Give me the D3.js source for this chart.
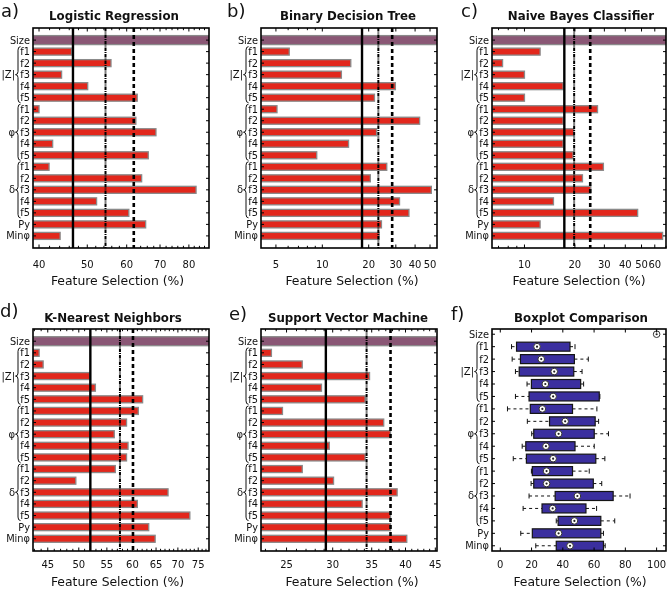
<!DOCTYPE html>
<html><head><meta charset="utf-8">
<script src="https://cdn.jsdelivr.net/npm/d3@7"></script>
<style>body{margin:0;background:#fff}svg{display:block;will-change:transform}text{font-family:"DejaVu Sans",Verdana,sans-serif;fill:#111}</style>
</head><body><svg id="c" width="668" height="589"></svg>
<script>
// ---------- data ----------
const rowNames = ["Size","f1","f2","f3","f4","f5","f1","f2","f3","f4","f5","f1","f2","f3","f4","f5","Py","Minφ"];
const groupNames = ["|Z|","φ","δ"];
const groupStart = [1,6,11];
const sizeValue = 100;

const lrValues  = [46.5,55.8,44.4,50.1,63.0, 40.0,62.6,68.7,42.6,66.3, 41.9,64.3,82.7,52.2,60.6, 65.5,44.1];
const lrLines   = [46.8,54.4,62.0];
const lrTicks   = [40,50,60,70,80];

const bdtValues = [6.1,15.3,13.3,29.8,21.8, 5.08,42.8,22.5,14.8,9.2, 26.2,20.5,51,31.7,36.5, 24.2,23.4];
const bdtLines  = [18.1,23.1,28.4];
const bdtTicks  = [5,10,20,30,40,50];

const nbValues  = [12.4,7.4,10.0,17.0,10.0, 27.3,17.0,19.7,17.0,19.5, 29.6,22.2,24.9,14.9,47.4, 12.4,66.8];
const nbLines   = [17.3,19.8,24.7];
const nbTicks   = [10,20,30,40,50,60];

const knnValues = [43.7,44.3,51.9,52.9,62.1, 61.2,58.8,56.4,59.1,58.8, 56.6,49.5,67.7,61.0,72.9, 63.4,64.8];
const knnLines  = [52.0,57.5,60.1];
const knnTicks  = [45,50,55,60,65,70,75];

const svmValues = [23.55,26.6,34.7,28.7,34.1, 24.6,36.7,37.7,29.6,34.1, 26.6,30.1,38.7,33.7,37.7, 37.7,40.2];
const svmLines  = [29.2,34.3,37.7];
const svmTicks  = [25,30,35,40,45];

// boxplot: [low whisker, Q1, median, Q3, high whisker] per feature row
const boxLow    = [7.2,7.6,9.7,17.1,9.7, 4.6,17.3,20.1,14.0,8.3, 19.9,19.7,18.4,14.6,35.8, 13.1,22.7];
const boxQ1     = [10.4,12.9,12.1,19.9,18.4, 19.2,31.5,21.4,16.3,16.7, 20.5,21.4,35.1,26.7,37.0, 20.5,35.8];
const boxMedian = [23.5,26.2,34.5,28.8,33.8, 26.9,41.5,37.3,29.2,33.8, 29.6,29.6,49.3,33.5,47.4, 37.3,44.6];
const boxQ3     = [44.6,47.4,47.0,51.4,63.3, 46.2,60.7,60.1,47.8,61.1, 46.2,59.5,72.2,54.8,64.3, 64.3,66.0];
const boxHigh   = [47.8,56.3,52.3,53.3,63.7, 61.8,62.9,69.2,60.1,66.9, 56.9,64.9,83.0,61.6,73.2, 66.0,67.1];
const boxSizeMedian = 100;
const boxTicks  = [0,20,40,60,80,100];

const titles = ["Logistic Regression","Binary Decision Tree","Naive Bayes Classifier","K-Nearest Neighbors","Support Vector Machine","Boxplot Comparison"];
const letters = ["a)","b)","c)","d)","e)","f)"];
const xTitle = "Feature Selection (%)";

// ---------- layout ----------
const svg = d3.select("#c");
const RED = "#e2271c", MAUVE = "#8a5775", BOXC = "#3b2f9f";
const panels = [
  {L:33, R:209, T:28, B:248, dom:[38.9,87.8], vals:lrValues,  lines:lrLines,  ticks:lrTicks,  minor:d3.range(40,88,2), tx:114, lx:1,   ly:17, axT:117.5},
  {L:261,R:437, T:28, B:248, dom:[4.0,55.5],  vals:bdtValues, lines:bdtLines, ticks:bdtTicks, minor:[5,6,7,8,9,10,20,30,40,50], tx:348, lx:227, ly:17, axT:352},
  {L:492,R:666, T:28, B:248, dom:[6.4,70.0],  vals:nbValues,  lines:nbLines,  ticks:nbTicks,  minor:[7,8,9,10,20,30,40,50,60,70], tx:581, lx:461, ly:17, axT:579},
  {L:33, R:209, T:329,B:551, dom:[42.8,77.8], vals:knnValues, lines:knnLines, ticks:knnTicks, minor:d3.range(43,78,1), tx:113, lx:0,   ly:317, axT:117.5},
  {L:261,R:437, T:329,B:551, dom:[22.6,45.3], vals:svmValues, lines:svmLines, ticks:svmTicks, minor:d3.range(23,46,1), tx:348, lx:229, ly:320, axT:352},
  {L:492,R:666, T:329,B:551, dom:[-5.3,106],  box:true,       ticks:boxTicks, minor:boxTicks, tx:581, lx:451, ly:320, axT:580}
];

const defs = svg.append("defs");

panels.forEach((p, i) => {
  const g = svg.append("g");
  const x = p.box ? d3.scaleLinear().domain(p.dom).range([p.L, p.R])
                  : d3.scaleLog().domain(p.dom).range([p.L, p.R]);
  const y = d3.scalePoint().domain(d3.range(rowNames.length)).range([p.T, p.B]).padding(p.box ? 0.42 : 1.05);
  const top = p.T < 300;
  defs.append("clipPath").attr("id", "clip" + i).append("rect")
    .attr("x", p.L).attr("y", p.T).attr("width", p.R - p.L).attr("height", p.B - p.T);
  const plot = g.append("g").attr("clip-path", `url(#clip${i})`);

  if (!p.box) {
    const data = [sizeValue].concat(p.vals);
    plot.selectAll("rect.bar").data(data).join("rect")
      .attr("x", x.range()[0])
      .attr("y", (d, k) => y(k) - (k === 0 ? 4.5 : 3.5))
      .attr("height", (d, k) => k === 0 ? 9 : 7)
      .attr("width", d => Math.max(0, x(d) - x.range()[0]))
      .attr("fill", (d, k) => k === 0 ? MAUVE : RED)
      .attr("stroke", "#8a8a8a").attr("stroke-width", 1.3);
    const styles = [
      {dash: null, w: 2.4},
      {dash: "3.5,1,1,1", w: 2},
      {dash: "4,3", w: 2.6}
    ];
    plot.selectAll("line.ref").data(p.lines).join("line")
      .attr("x1", d => x(d)).attr("x2", d => x(d))
      .attr("y1", p.T).attr("y2", p.B)
      .attr("stroke", "#000")
      .attr("stroke-width", (d, k) => styles[k].w)
      .attr("stroke-dasharray", (d, k) => styles[k].dash);
  } else {
    const idx = d3.range(boxLow.length);
    const bg = plot.selectAll("g.box").data(idx).join("g");
    bg.append("line").attr("x1", k => x(boxLow[k])).attr("x2", k => x(boxQ1[k]))
      .attr("y1", k => y(k + 1)).attr("y2", k => y(k + 1))
      .attr("stroke", "#111").attr("stroke-dasharray", "3,3");
    bg.append("line").attr("x1", k => x(boxQ3[k])).attr("x2", k => x(boxHigh[k]))
      .attr("y1", k => y(k + 1)).attr("y2", k => y(k + 1))
      .attr("stroke", "#111").attr("stroke-dasharray", "3,3");
    bg.append("line").attr("x1", k => x(boxLow[k])).attr("x2", k => x(boxLow[k]))
      .attr("y1", k => y(k + 1) - 2.5).attr("y2", k => y(k + 1) + 2.5).attr("stroke", "#111");
    bg.append("line").attr("x1", k => x(boxHigh[k])).attr("x2", k => x(boxHigh[k]))
      .attr("y1", k => y(k + 1) - 2.5).attr("y2", k => y(k + 1) + 2.5).attr("stroke", "#111");
    bg.append("rect").attr("x", k => x(boxQ1[k])).attr("width", k => x(boxQ3[k]) - x(boxQ1[k]))
      .attr("y", k => y(k + 1) - 4.5).attr("height", 9)
      .attr("fill", BOXC).attr("stroke", "#151515").attr("stroke-width", 1.2);
    const med = idx.map(k => ({v: boxMedian[k], r: k + 1})).concat([{v: boxSizeMedian, r: 0}]);
    plot.selectAll("circle.med").data(med).join("circle")
      .attr("cx", d => x(d.v)).attr("cy", d => y(d.r)).attr("r", 3.3)
      .attr("fill", "#fff").attr("stroke", "#333").attr("stroke-width", 1);
    plot.selectAll("circle.dot").data(med).join("circle")
      .attr("cx", d => x(d.v)).attr("cy", d => y(d.r)).attr("r", 1.1).attr("fill", "#222");
  }

  // ticks on frame
  const tk = g.append("g").attr("stroke", "#000").attr("stroke-width", 1);
  p.minor.forEach(v => {
    const xx = x(v); if (xx < p.L || xx > p.R) return;
    const len = p.ticks.includes(v) ? 3.5 : 2.2;
    tk.append("line").attr("x1", xx).attr("x2", xx).attr("y1", p.B).attr("y2", p.B - len);
    tk.append("line").attr("x1", xx).attr("x2", xx).attr("y1", p.T).attr("y2", p.T + len);
  });
  rowNames.forEach((n, k) => {
    tk.append("line").attr("x1", p.R).attr("x2", p.R - 3).attr("y1", y(k)).attr("y2", y(k));
    tk.append("line").attr("x1", p.L).attr("x2", p.L + 3).attr("y1", y(k)).attr("y2", y(k));
  });

  // frame
  g.append("rect").attr("x", p.L).attr("y", p.T).attr("width", p.R - p.L).attr("height", p.B - p.T)
    .attr("fill", "none").attr("stroke", "#000").attr("stroke-width", 1.6);

  // x tick labels
  const tly = top ? 267.5 : 567.5;
  g.selectAll("text.tl").data(p.ticks).join("text")
    .attr("x", d => x(d)).attr("y", tly).attr("text-anchor", "middle")
    .style("font-size", "10px").text(d => d);
  g.append("text").attr("x", p.axT).attr("y", top ? 284.5 : 586).attr("text-anchor", "middle")
    .style("font-size", "12.4px").text(xTitle);

  // row labels
  g.selectAll("text.rl").data(rowNames).join("text")
    .attr("x", p.L - 3).attr("y", (d, k) => y(k)).attr("dy", "0.35em").attr("text-anchor", "end")
    .style("font-size", "9.8px").text(d => d);

  // braces and group labels
  groupStart.forEach((s, j) => {
    const y1 = y(s) - 5, y2 = y(s + 4) + 5, ym = y(s + 2);
    const bx = p.L - 15;
    const path = d3.path();
    path.moveTo(bx + 2.5, y1);
    path.quadraticCurveTo(bx, y1, bx, y1 + 3.5);
    path.lineTo(bx, ym - 3);
    path.quadraticCurveTo(bx, ym, bx - 2.5, ym);
    path.quadraticCurveTo(bx, ym, bx, ym + 3);
    path.lineTo(bx, y2 - 3.5);
    path.quadraticCurveTo(bx, y2, bx + 2.5, y2);
    g.append("path").attr("d", path.toString()).attr("fill", "none").attr("stroke", "#111").attr("stroke-width", 1);
    g.append("text").attr("x", bx - 3).attr("y", ym).attr("dy", "0.35em").attr("text-anchor", "end")
      .style("font-size", "10px").text(groupNames[j]);
  });

  // titles
  g.append("text").attr("x", p.tx).attr("y", top ? 19.5 : 322).attr("text-anchor", "middle")
    .style("font-size", "11.8px").style("font-weight", "bold").text(titles[i]);
  g.append("text").attr("x", p.lx).attr("y", p.ly).style("font-size", "18px").text(letters[i]);
});
</script>
</body></html>
